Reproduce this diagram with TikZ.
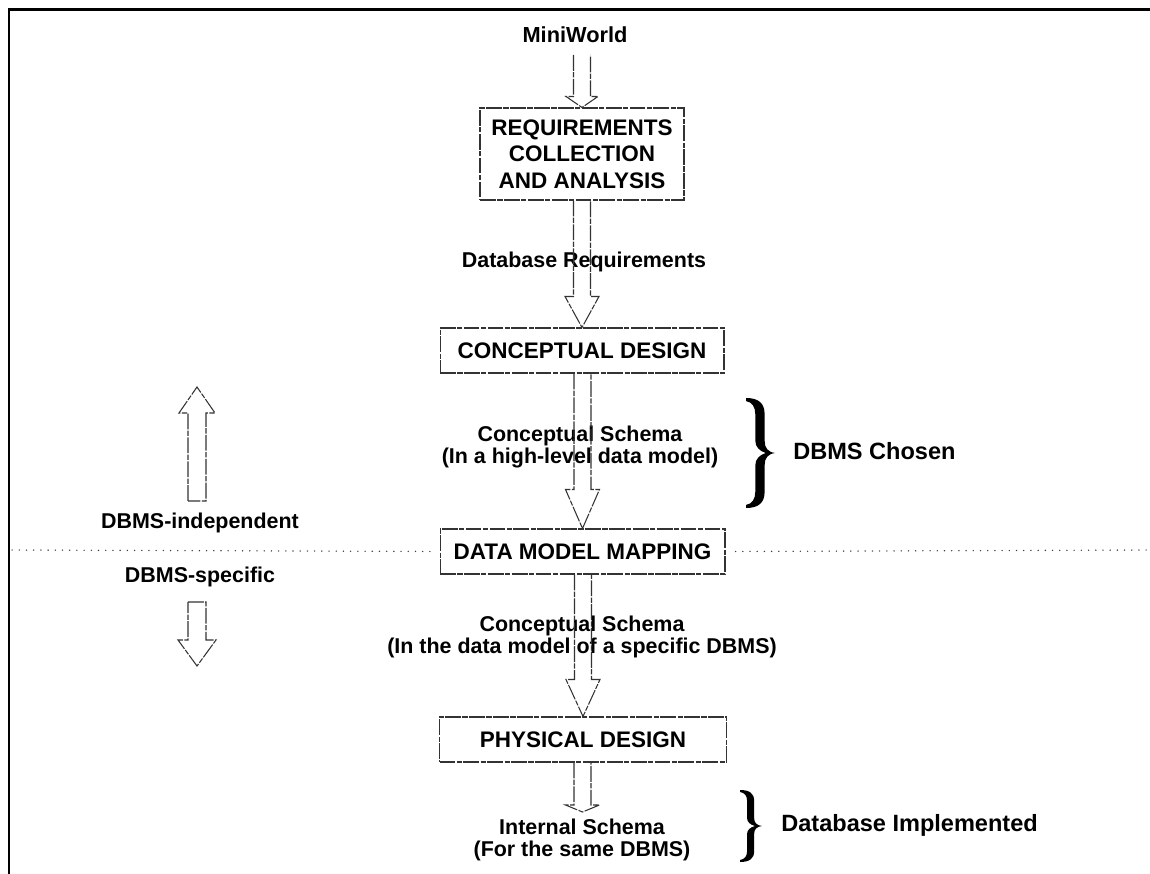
\documentclass[tikz,border=0pt]{standalone}
\usepackage{fontspec}
\setmainfont{Liberation Sans}
\usetikzlibrary{calc}
\newcommand\lblfont{\fontsize{12.2}{12.6}\selectfont\bfseries}
\newcommand\bxfont{\fontsize{12.8}{13.2}\selectfont\bfseries}
\newcommand\sdfont{\fontsize{13.4}{15}\selectfont\bfseries}
\newcommand\mwfont{\fontsize{12.4}{14}\selectfont\bfseries}
\newcommand\rbr[4]{%
 \begin{scope}[shift={(#1,#2)}, xscale=#3/28, yscale=#4/108]
  \fill (0,0) .. controls (12,0) and (18,5) .. (18,16) -- (18,42) .. controls (18,49) and (21,53) .. (28,54) .. controls (21,55) and (18,59) .. (18,66) -- (18,92) .. controls (18,103) and (12,108) .. (0,108) -- (0,105) .. controls (6,104) and (9,99) .. (9,92) -- (9,66) .. controls (9,60) and (13,56) .. (19,54) .. controls (13,52) and (9,48) .. (9,42) -- (9,16) .. controls (9,9) and (6,4) .. (0,3) -- cycle;
 \end{scope}}
\newcommand\blkdn[3]{%
 \draw[blk] ($(#2.north |- #1.south)+(-8.5,0)$) -- ($(#2.north)+(-8.5,-#3)$) -- ($(#2.north)+(-17,-#3)$) -- (#2.north) -- ($(#2.north)+(17,-#3)$) -- ($(#2.north)+(8.5,-#3)$) -- ($(#2.north |- #1.south)+(8.5,0)$);}
\tikzset{
 scan/.style={draw=black!80, line width=0.6pt, dash pattern=on 9pt off 0.8pt on 3pt off 0.8pt},
 box/.style={scan, inner sep=0pt, align=center, font=\bxfont},
 lbl/.style={inner sep=0pt, align=center, font=\lblfont},
 side/.style={inner sep=0pt, anchor=west, font=\sdfont},
 blk/.style={scan, line join=miter},
 frame/.style={line width=1.7pt, black},
 divider/.style={line width=0.8pt, black!75, dash pattern=on 0.1pt off 4pt, line cap=round}
}
\begin{document}
\begin{tikzpicture}[x=0.02cm,y=-0.02cm]
\useasboundingbox (0,0) rectangle (1150,874);
% frame
\draw[frame] (1150,10) -- (9,10) -- (9,874);
% top text
\node[lbl, font=\mwfont] (mw) at (575,35) {MiniWorld};
\coordinate (mwa) at (582,55);
% boxes
\node[box, minimum width=4.08cm, minimum height=1.84cm] (req) at (582,154) {REQUIREMENTS\\[2pt]COLLECTION\\[2pt]AND ANALYSIS};
\node[box, minimum width=5.68cm, minimum height=0.9cm] (cd) at (582,350.5) {CONCEPTUAL DESIGN};
\node[box, minimum width=5.7cm, minimum height=0.9cm] (dmm) at (582.5,551.5) {DATA MODEL MAPPING};
\node[box, minimum width=5.74cm, minimum height=0.9cm] (pd) at (583,739.5) {PHYSICAL DESIGN};
% labels
\node[lbl] (dbreq) at (584,262) {Database Requirements};
\node[lbl] (cs1) at (580,447) {Conceptual Schema\\(In a high-level data model)};
\node[lbl] (cs2) at (582,637) {Conceptual Schema\\(In the data model of a specific DBMS)};
\node[lbl] (is) at (582,840) {Internal Schema\\(For the same DBMS)};
\node[side] (chosen) at (793,451) {DBMS Chosen};
\node[side] (impl) at (781,825) {Database Implemented};
\node[lbl] (indep) at (200,523) {DBMS-independent};
\node[lbl] (spec) at (200,577) {DBMS-specific};
% block arrows
\draw[blk] ($(mwa)+(-8.5,0)$) -- ($(req.north)+(-8.5,-11)$) -- ($(req.north)+(-16,-11)$) -- (req.north) -- ($(req.north)+(16,-11)$) -- ($(req.north)+(8.5,-11)$) -- ($(mwa)+(8.5,0)$);
\blkdn{req}{cd}{31}
\blkdn{cd}{dmm}{39}
\blkdn{dmm}{pd}{37}
\coordinate (ist) at (582.5,812);
\draw[blk] ($(ist |- pd.south)+(-8.5,0)$) -- ($(ist)+(-8.5,-7)$) -- ($(ist)+(-17,-7)$) -- (ist) -- ($(ist)+(17,-7)$) -- ($(ist)+(8.5,-7)$) -- ($(ist |- pd.south)+(8.5,0)$);
% left arrows
\draw[blk] (188,501) -- (188,413) -- (179,413) -- (197,387) -- (215,413) -- (206,413) -- (206,501) -- cycle;
\draw[blk] (188,602) -- (206,602) -- (206,640) -- (216,640) -- (197,666) -- (178,640) -- (188,640) -- cycle;
% divider
\draw[divider] (12,550) -- ($(dmm.west)+(-4,0)$);
\draw[divider] ($(dmm.east)+(10,0)$) -- (1150,550);
% braces
\rbr{746}{398}{29}{110}
\rbr{740}{790}{22}{72}
\end{tikzpicture}
\end{document}
